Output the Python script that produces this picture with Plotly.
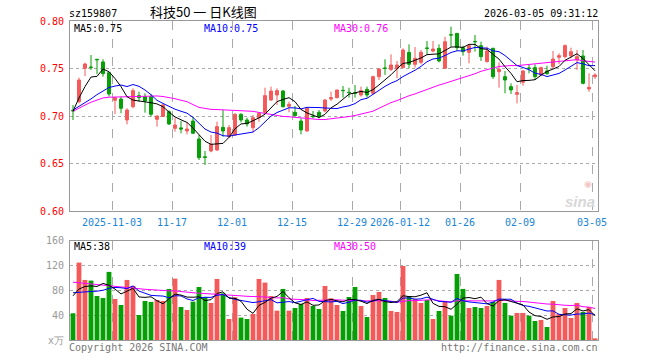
import pandas as pd
import plotly.graph_objects as go

# ---------------- data ----------------
holidays = ["2026-01-01", "2026-01-02", "2026-02-16", "2026-02-17", "2026-02-18",
            "2026-02-19", "2026-02-20", "2026-02-23"]
dates = [d.strftime("%Y-%m-%d") for d in pd.bdate_range("2025-10-23", "2026-03-05")
         if d.strftime("%Y-%m-%d") not in holidays]

opens = [0.7060, 0.7151, 0.7502, 0.7515, 0.7597, 0.7569, 0.7456, 0.7165, 0.7179, 0.6958,
         0.7098, 0.7214, 0.7204, 0.7204, 0.6965, 0.6995, 0.7045, 0.6870, 0.6875, 0.6842,
         0.6947, 0.6758, 0.6570, 0.6632, 0.6642, 0.6881, 0.6782, 0.6800, 0.7018, 0.6958,
         0.6877, 0.6982, 0.7039, 0.7168, 0.7221, 0.7263, 0.7102, 0.7039, 0.6947, 0.6842,
         0.6998, 0.7039, 0.7053, 0.7179, 0.7193, 0.7270, 0.7250, 0.7242, 0.7221, 0.7281,
         0.7239, 0.7414, 0.7505, 0.7491, 0.7502, 0.7509, 0.7670, 0.7544, 0.7565, 0.7716,
         0.7684, 0.7712, 0.7502, 0.7856, 0.7870, 0.7719, 0.7670, 0.7785, 0.7740, 0.7572,
         0.7712, 0.7467, 0.7414, 0.7309, 0.7228, 0.7355, 0.7505, 0.7509, 0.7432, 0.7474,
         0.7519, 0.7618, 0.7625, 0.7635, 0.7590, 0.7632, 0.7284, 0.7414]
highs = [0.7116, 0.7404, 0.7561, 0.7642, 0.7600, 0.7597, 0.7467, 0.7197, 0.7204, 0.7081,
         0.7291, 0.7256, 0.7239, 0.7232, 0.7005, 0.7130, 0.7060, 0.6986, 0.6947, 0.6933,
         0.6993, 0.6800, 0.6632, 0.6800, 0.6940, 0.7063, 0.6905, 0.7028, 0.7028, 0.6982,
         0.7011, 0.7039, 0.7298, 0.7309, 0.7291, 0.7274, 0.7151, 0.7105, 0.6975, 0.7088,
         0.7053, 0.7063, 0.7179, 0.7256, 0.7274, 0.7316, 0.7298, 0.7326, 0.7309, 0.7309,
         0.7425, 0.7502, 0.7597, 0.7649, 0.7579, 0.7712, 0.7754, 0.7726, 0.7695, 0.7789,
         0.7789, 0.7754, 0.7835, 0.7940, 0.7872, 0.7740, 0.7754, 0.7853, 0.7782, 0.7730,
         0.7719, 0.7565, 0.7474, 0.7344, 0.7326, 0.7484, 0.7544, 0.7544, 0.7519, 0.7530,
         0.7684, 0.7660, 0.7754, 0.7719, 0.7695, 0.7695, 0.7449, 0.7449]
lows = [0.6958, 0.7133, 0.7420, 0.7484, 0.7440, 0.7414, 0.7204, 0.7020, 0.7028, 0.6912,
        0.7081, 0.7150, 0.7035, 0.6993, 0.6888, 0.6990, 0.6905, 0.6835, 0.6818, 0.6807,
        0.6810, 0.6537, 0.6484, 0.6618, 0.6632, 0.6782, 0.6772, 0.6793, 0.6933, 0.6888,
        0.6828, 0.6940, 0.7018, 0.7160, 0.7116, 0.7088, 0.7039, 0.6993, 0.6807, 0.6835,
        0.6975, 0.6975, 0.7039, 0.7158, 0.7186, 0.7193, 0.7193, 0.7193, 0.7204, 0.7193,
        0.7221, 0.7379, 0.7432, 0.7474, 0.7397, 0.7502, 0.7502, 0.7509, 0.7544, 0.7642,
        0.7670, 0.7565, 0.7500, 0.7730, 0.7684, 0.7635, 0.7554, 0.7677, 0.7579, 0.7565,
        0.7390, 0.7298, 0.7239, 0.7232, 0.7133, 0.7319, 0.7449, 0.7379, 0.7425, 0.7432,
        0.7502, 0.7544, 0.7607, 0.7607, 0.7484, 0.7333, 0.7256, 0.7390]
closes = [0.7055, 0.7379, 0.7547, 0.7512, 0.7592, 0.7446, 0.7232, 0.7193, 0.7081, 0.7063,
          0.7267, 0.7193, 0.7158, 0.7018, 0.7000, 0.7116, 0.6916, 0.6905, 0.6863, 0.6863,
          0.6818, 0.6561, 0.6565, 0.6702, 0.6888, 0.6842, 0.6877, 0.7018, 0.6958, 0.6916,
          0.6982, 0.7028, 0.7214, 0.7263, 0.7267, 0.7098, 0.7123, 0.7004, 0.6853, 0.7081,
          0.6993, 0.6993, 0.7168, 0.7193, 0.7274, 0.7267, 0.7246, 0.7239, 0.7267, 0.7221,
          0.7414, 0.7495, 0.7502, 0.7537, 0.7537, 0.7695, 0.7544, 0.7607, 0.7670, 0.7712,
          0.7705, 0.7579, 0.7782, 0.7853, 0.7719, 0.7677, 0.7740, 0.7782, 0.7625, 0.7684,
          0.7414, 0.7491, 0.7379, 0.7274, 0.7246, 0.7474, 0.7502, 0.7414, 0.7509, 0.7446,
          0.7600, 0.7635, 0.7740, 0.7677, 0.7625, 0.7344, 0.7302, 0.7432]
volumes = [43.0, 124.5, 96.6, 95.5, 70.8, 67.6, 109.5, 66.0, 56.3, 96.6,
           86.9, 40.2, 62.8, 61.2, 64.4, 62.8, 82.1, 98.7, 53.1, 48.3,
           61.7, 85.3, 69.2, 59.6, 98.2, 75.1, 33.8, 68.7, 36.0, 33.8,
           41.8, 98.2, 92.3, 70.8, 47.2, 82.1, 47.2, 51.5, 57.9, 67.6,
           54.7, 49.9, 86.9, 67.1, 56.3, 46.7, 69.2, 85.3, 54.7, 37.0,
           72.4, 77.3, 67.6, 46.7, 45.1, 119.1, 70.8, 66.0, 59.6, 64.4,
           33.8, 46.7, 62.8, 39.1, 106.2, 82.1, 51.5, 53.1, 51.5, 54.7,
           61.2, 96.6, 59.6, 39.1, 43.5, 43.5, 39.1, 30.6, 32.2, 20.9,
           62.8, 41.8, 51.5, 35.4, 59.6, 45.1, 53.1, 2.7]

# moving-average values at the start of the window (earlier history not shown)
ma5_head = [0.7050, 0.7190, 0.7310, 0.7410]
ma10_head = [0.7063, 0.7100, 0.7140, 0.7180, 0.7225, 0.7260, 0.7300, 0.7315, 0.7326]
ma30_head = [0.7050, 0.7085, 0.7115, 0.7145, 0.7170, 0.7190, 0.7198, 0.7200, 0.7202, 0.7204,
             0.7206, 0.7208, 0.7210, 0.7211, 0.7211, 0.7205, 0.7196, 0.7182, 0.7166, 0.7151,
             0.7120, 0.7091, 0.7080, 0.7070, 0.7068, 0.7066, 0.7064, 0.7062, 0.7056]
vma5_head = [71, 82, 86, 87]
vma10_head = [76, 77, 77.5, 78, 78.5, 80, 83, 84.5, 84]
vma30_head = [93, 92, 90.5, 89.5, 88.5, 88, 87, 86, 85, 84, 83, 82, 81.5, 81, 80, 79.5,
              79, 79, 78.5, 77, 76, 75, 74.5, 74, 73.5, 73, 73, 72, 71]

tick_labels = ["2025-11-03", "11-17", "12-01", "12-15", "12-29", "2026-01-12", "01-26", "02-09", "03-05"]
tick_dates = ["2025-11-03", "2025-11-17", "2025-12-01", "2025-12-15", "2025-12-29",
              "2026-01-12", "2026-01-26", "2026-02-09", "2026-03-05"]
price_ticks = [0.60, 0.65, 0.70, 0.75, 0.80]
price_tick_text = ["0.60", "0.65", "0.70", "0.75", "0.80"]
vol_ticks = [0, 40, 80, 120, 160]
vol_tick_text = ["x万", "40", "80", "120", "160"]

label_price = ["MA5:0.75", "MA10:0.75", "MA30:0.76"]
label_vol = ["MA5:38", "MA10:39", "MA30:50"]


def moving_avg(vals, n, head):
    out = list(head)
    for i in range(len(head), len(vals)):
        w = vals[i - n + 1:i + 1]
        out.append(sum(w) / len(w))
    return out


n = len(dates)
idx = list(range(n))
ma5 = moving_avg(closes, 5, ma5_head)
ma10 = moving_avg(closes, 10, ma10_head)
ma30 = moving_avg(closes, 30, ma30_head)
vma5 = moving_avg(volumes, 5, vma5_head)
vma10 = moving_avg(volumes, 10, vma10_head)
vma30 = moving_avg(volumes, 30, vma30_head)

RED = "#f55a5a"
GREEN = "#06a006"
C5, C10, C30 = "#000000", "#0000ff", "#ff00ff"
MONO = "DejaVu Sans Mono"

tickvals = [dates.index(d) - 0.5 for d in tick_dates]
vol_colors = [RED if c >= o else GREEN for o, c in zip(opens, closes)]

fig = go.Figure()
fig.add_trace(go.Candlestick(
    x=idx, open=opens, high=highs, low=lows, close=closes,
    increasing=dict(line=dict(color=RED, width=1), fillcolor=RED),
    decreasing=dict(line=dict(color=GREEN, width=1), fillcolor=GREEN),
    whiskerwidth=0, hoverinfo="skip", xaxis="x", yaxis="y"))
for vals, col in [(ma30, C30), (ma10, C10), (ma5, C5)]:
    fig.add_trace(go.Scatter(x=idx, y=vals, mode="lines", line=dict(color=col, width=1),
                             hoverinfo="skip", xaxis="x", yaxis="y"))
fig.add_trace(go.Bar(x=idx, y=volumes, marker=dict(color=vol_colors, line=dict(width=0)),
                     width=0.8, hoverinfo="skip", xaxis="x2", yaxis="y2"))
for vals, col in [(vma30, C30), (vma10, C10), (vma5, C5)]:
    fig.add_trace(go.Scatter(x=idx, y=vals, mode="lines", line=dict(color=col, width=1),
                             hoverinfo="skip", xaxis="x2", yaxis="y2"))

# layout geometry (pixels)
L, R, T, B = 70, 62, 21, 20
W, H = 660, 360
PW, PH = W - L - R, H - T - B


def px(X):
    return (X - L) / PW


def py(Y):
    return (H - B - Y) / PH


axis_common = dict(showline=True, mirror=True, linecolor="#999999", linewidth=1,
                   zeroline=False, ticks="", fixedrange=True)

fig.update_layout(
    width=W, height=H, margin=dict(l=L, r=R, t=T, b=B),
    paper_bgcolor="white", plot_bgcolor="white", showlegend=False,
    xaxis=dict(domain=[0, 1], anchor="y", range=[-0.5, n - 0.5],
               tickmode="array", tickvals=tickvals, ticktext=tick_labels,
               showgrid=True, gridcolor="#aaaaaa", griddash="dash", gridwidth=1,
               tickfont=dict(family=MONO, size=10, color="#1a85d6"),
               rangeslider=dict(visible=False), ticklabelstandoff=2, **axis_common),
    yaxis=dict(domain=[py(211), 1], anchor="x", range=[0.60, 0.80],
               tickmode="array", tickvals=price_ticks, ticktext=price_tick_text,
               showgrid=True, gridcolor="#aaaaaa", griddash="dot", gridwidth=1,
               tickfont=dict(family=MONO, size=10, color="#ff0000"),
               ticklabelstandoff=3, **axis_common),
    xaxis2=dict(domain=[0, 1], anchor="y2", range=[-0.5, n - 0.5], matches="x",
                tickmode="array", tickvals=tickvals, showticklabels=False,
                showgrid=True, gridcolor="#aaaaaa", griddash="dash", gridwidth=1,
                **axis_common),
    yaxis2=dict(domain=[0, py(240.5)], anchor="x2", range=[0, 160],
                tickmode="array", tickvals=vol_ticks, ticktext=vol_tick_text,
                showgrid=True, gridcolor="#aaaaaa", griddash="dot", gridwidth=1,
                tickfont=dict(family=MONO, size=10, color="#999999"),
                ticklabelstandoff=3, **axis_common),
)

ann = []


def add_text(X, Y, text, color="#000000", size=10, family=MONO, xanchor="left", **kw):
    ann.append(dict(xref="paper", yref="paper", x=px(X), y=py(Y), text=text,
                    showarrow=False, xanchor=xanchor, yanchor="middle", borderpad=0,
                    font=dict(family=family, size=size, color=color), **kw))


add_text(68, 13, "sz159807")
add_text(149, 12, "科技50 一 日K线图", size=13, family="Noto Sans CJK SC")
add_text(599, 13, "2026-03-05 09:31:12", xanchor="right")
for X, t, c in zip([73, 203, 333], label_price, [C5, C10, C30]):
    add_text(X, 28, t, color=c)
for X, t, c in zip([73, 203, 333], label_vol, [C5, C10, C30]):
    add_text(X, 246, t, color=c)
add_text(68, 348, "Copyright 2026 SINA.COM", color="#777777")
add_text(599, 348, "http://finance.sina.com.cn", color="#777777", xanchor="right")
add_text(580, 201, "<b><i>sina</i></b>", color="#d8d8d8", size=15,
         family="Liberation Sans", xanchor="center")
add_text(588, 184, "◉", color="#f3c4c4", size=9, family="DejaVu Sans", xanchor="center")
fig.update_layout(annotations=ann)

fig.write_html("out.html", config={"displayModeBar": False, "staticPlot": True},
               post_script="document.body.style.margin='0';document.body.style.overflow='hidden';")
